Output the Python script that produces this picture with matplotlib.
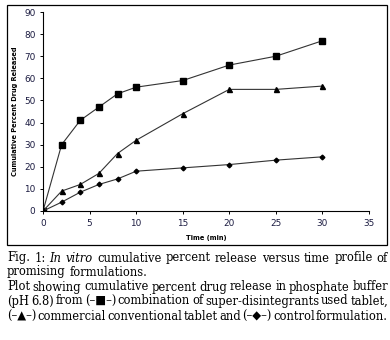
import matplotlib.pyplot as plt
from matplotlib.patches import Rectangle

time_min = [0, 2, 4, 6, 8, 10, 15, 20, 25, 30]
combination = [0, 30, 41, 47, 53, 56, 59, 66, 70, 77]
commercial = [0, 9, 12, 17, 26, 32, 44, 55, 55, 56.5]
control = [0, 4, 8.5, 12, 14.5, 18, 19.5, 21, 23, 24.5]

caption = [
    ('Fig. 1: |In vitro| cumulative percent release versus time profile of', True),
    ('promising formulations.', False),
    ('Plot showing cumulative percent drug release in phosphate buffer', True),
    ('(pH 6.8) from (–■–) combination of super-disintegrants used tablet,', True),
    ('(–▲–) commercial conventional tablet and (–◆–) control formulation.', True),
]

W, H = 390, 340
fig = plt.figure(figsize=(W / 100, H / 100), dpi=100)
ax = fig.add_axes([43 / W, 1 - 211 / H, (369 - 43) / W, (211 - 12) / H])

ax.plot(time_min, combination, color='#333333', lw=0.8, marker='s', ms=3.8, mfc='black', mec='black')
ax.plot(time_min, commercial, color='#333333', lw=0.8, marker='^', ms=3.6, mfc='black', mec='black')
ax.plot(time_min, control, color='#333333', lw=0.8, marker='D', ms=2.4, mfc='black', mec='black')

ax.set_xlim(0, 35)
ax.set_ylim(0, 90)
ax.set_xticks(range(0, 36, 5))
ax.set_yticks(range(0, 91, 10))
ax.spines['top'].set_visible(False)
ax.spines['right'].set_visible(False)
ax.spines['left'].set_linewidth(0.8)
ax.spines['bottom'].set_linewidth(0.8)
ax.tick_params(labelsize=6.4, length=2.5, width=0.7, pad=3, labelcolor='#1a1a40')
ax.set_xlabel('Time (min)', fontsize=4.8, fontweight='bold', labelpad=5)
ax.set_ylabel('Cumulative Percent Drug Released', fontsize=4.8, fontweight='bold', labelpad=4)

fig.add_artist(Rectangle((7 / W, 1 - 245 / H), 380 / W, 240 / H,
                         transform=fig.transFigure, fill=False, lw=0.9, ec='black'))

# caption: justified lines, word by word
fs = 8.3
fam = ['DejaVu Serif']
left, right = 7, 388
ys = [258, 272, 287, 301, 316]
renderer = fig.canvas.get_renderer()
for (line, justify), y in zip(caption, ys):
    parts = line.split(' ')
    words = []
    italic = False
    for p in parts:
        if p.startswith('|'):
            italic = True
        words.append((p.strip('|'), italic))
        if p.endswith('|'):
            italic = False
    arts = []
    for w, it in words:
        t = fig.text(0, 1 - y / H, w, fontsize=fs, family=fam, va='center', ha='left',
                     style='italic' if it else 'normal')
        arts.append(t)
    widths = [a.get_window_extent(renderer).width for a in arts]
    space = fs * 100 / 72 * 0.32
    if justify and len(arts) > 1:
        space = (right - left - sum(widths)) / (len(arts) - 1)
    x = left
    for a, wd in zip(arts, widths):
        a.set_x(x / W)
        x += wd + space

fig.savefig('out.png', dpi=100)
